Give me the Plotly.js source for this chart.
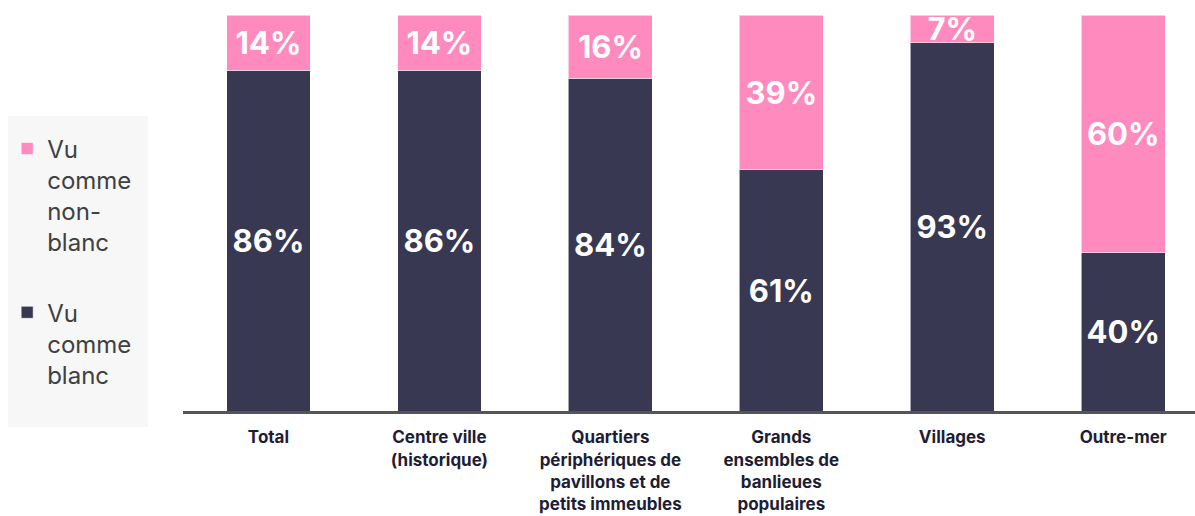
<!DOCTYPE html>
<html>
<head>
<meta charset="utf-8">
<script src="https://cdn.plot.ly/plotly-3.0.1.min.js"></script>
<style>
  html, body { margin: 0; padding: 0; background: #ffffff; }
  #chart { width: 1195px; height: 516px; }
</style>
</head>
<body>
<div id="chart"></div>
<script>
// categories and values
const categories = [
    'Total',
    'Centre ville<br>(historique)',
    'Quartiers<br>périphériques de<br>pavillons et de<br>petits immeubles',
    'Grands<br>ensembles de<br>banlieues<br>populaires',
    'Villages',
    'Outre-mer'
];
const vuBlanc = [86, 86, 84, 61, 93, 40];
const vuNonBlanc = [14, 14, 16, 39, 7, 60];

const nameBlanc = 'Vu<br>comme<br>blanc';
const nameNonBlanc = 'Vu<br>comme<br>non-<br>blanc';

const pink = '#ff8bbe';
const navy = '#393852';

const valueFont = { family: 'Inter, Lato, sans-serif', size: 31, color: '#ffffff', weight: 'bold' };

const traceBlanc = {
    x: categories, y: vuBlanc, type: 'bar', name: nameBlanc, legendgroup: 'b', legendrank: 2,
    text: vuBlanc.map(v => v + '%'), textposition: 'inside', insidetextanchor: 'middle',
    constraintext: 'none', textfont: valueFont, hoverinfo: 'none',
    marker: { color: navy, line: { color: 'rgba(255,255,255,0.55)', width: 1 } },
    width: 0.49
};
const traceNonBlanc = {
    x: categories, y: vuNonBlanc, type: 'bar', name: nameNonBlanc, legendgroup: 'nb', legendrank: 1,
    text: vuNonBlanc.map(v => v + '%'), textposition: 'inside', insidetextanchor: 'middle',
    constraintext: 'none', textfont: valueFont, hoverinfo: 'none',
    marker: { color: pink, line: { color: 'rgba(255,255,255,0.55)', width: 1 } },
    width: 0.49
};

const layout = {
    width: 1195, height: 516,
    paper_bgcolor: '#ffffff', plot_bgcolor: '#ffffff',
    barmode: 'stack',
    margin: { l: 183, r: 0, t: 15, b: 105 },
    showlegend: true,
    legend: {
        xref: 'container', yref: 'container',
        x: 0.006, y: 0.755, xanchor: 'left', yanchor: 'top',
        traceorder: 'grouped', tracegroupgap: 36, valign: 'top',
        bgcolor: 'rgba(0,0,0,0)',
        font: { family: 'Inter, Lato, sans-serif', size: 24, color: '#404040' },
        itemwidth: 30
    },
    xaxis: {
        type: 'category', range: [-0.5, 5.42],
        showline: true, linecolor: '#555555', linewidth: 3,
        ticks: '', showgrid: false, zeroline: false, ticklabelstandoff: 9,
        tickfont: { family: 'Inter, Lato, sans-serif', size: 17, color: '#1e1d35', weight: 'bold' }
    },
    yaxis: {
        range: [0, 100], visible: false, showgrid: false, zeroline: false, fixedrange: true
    },
    shapes: [{
        type: 'rect', layer: 'below', xref: 'paper', yref: 'paper',
        x0: -0.1729, x1: -0.0346, y0: -0.0404, y1: 0.745,
        fillcolor: '#f7f7f7', line: { width: 0 }
    }]
};

Plotly.newPlot('chart', [traceBlanc, traceNonBlanc], layout, { displayModeBar: false, staticPlot: true });
</script>
</body>
</html>
